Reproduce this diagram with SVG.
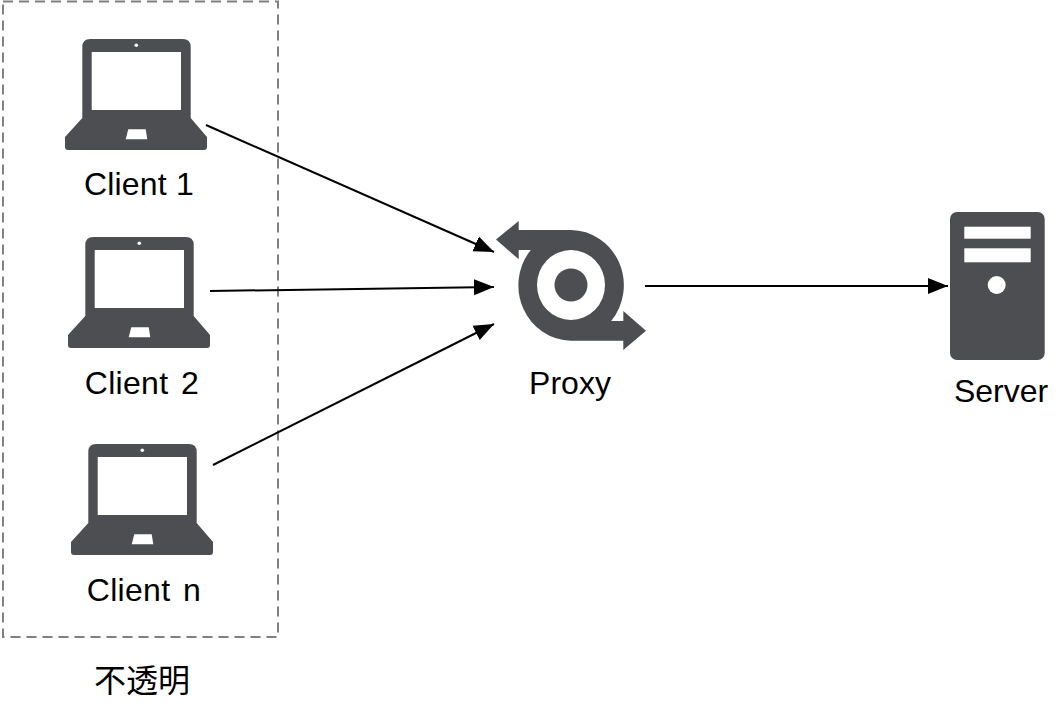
<svg xmlns="http://www.w3.org/2000/svg" width="1062" height="714" viewBox="0 0 1062 714">
<style>
.icon{fill:#4d4e52}
.hole{fill:#fff}
.lbl{font-family:"Liberation Sans",Arial,sans-serif;font-size:32px;fill:#000;text-anchor:middle}
.client{letter-spacing:.3px;word-spacing:3.5px}
.client-tight{letter-spacing:.2px}
.cjk{font-family:"Liberation Sans","Noto Sans CJK SC",sans-serif;font-size:32px;fill:#000;text-anchor:middle}
.conn{fill:none;stroke:#000;stroke-width:2}
</style>
<defs>
<marker id="arrow" markerUnits="userSpaceOnUse" markerWidth="22" markerHeight="18" refX="20" refY="9" orient="auto">
<path d="M0 1 L20 9 L0 17 Z" fill="#000"/>
</marker>
<symbol id="laptop" width="143" height="112" viewBox="0 0 143 112" overflow="visible">
<path class="icon" d="M17.3 8 Q17.3 0 25.3 0 L117.7 0 Q125.7 0 125.7 8 L125.7 79 L142 98 L142 108 Q142 111 139 111 L3 111 Q0 111 0 108 L0 98 L17.3 79 Z"/>
<rect class="hole" x="26.7" y="13" width="89.3" height="58"/>
<circle class="hole" cx="71.3" cy="6.3" r="1.8"/>
<path class="hole" d="M63.3 90.3 L80.7 90.3 L82.3 100.3 L60.7 100.3 Z"/>
</symbol>
</defs>
<rect id="group-box" x="3" y="1.5" width="275" height="635.5" fill="none" stroke="#808080" stroke-width="2" stroke-dasharray="10 6"/>
<g id="client-1"><use href="#laptop" x="65" y="39"/><text class="lbl client-tight" x="139" y="195">Client 1</text></g>
<g id="client-2"><use href="#laptop" x="68" y="237"/><text class="lbl client" x="142" y="394">Client 2</text></g>
<g id="client-n"><use href="#laptop" x="71" y="444"/><text class="lbl client" x="144" y="601">Client n</text></g>
<g id="proxy">
<path class="icon" fill-rule="evenodd" d="M496 239.5 L518.7 221 L518.7 230 L571 230 A53.5 55.3 0 0 1 611.2 321 L623.3 321 L623.3 311 L646 330.7 L623.3 350 L623.3 340.7 L571 340.7 A53.5 55.3 0 0 1 530.8 250 L518.7 250 L518.7 259.3 Z M571 250 A34 35 0 1 0 571 320 A34 35 0 1 0 571 250 Z"/>
<circle class="icon" cx="571" cy="285" r="16.5"/>
<text class="lbl" x="570" y="394">Proxy</text>
</g>
<g id="server">
<rect class="icon" x="950" y="212" width="94.7" height="148" rx="7"/>
<rect class="hole" x="964.3" y="226.7" width="66.4" height="12"/>
<rect class="hole" x="964.3" y="248.3" width="66.4" height="14"/>
<circle class="hole" cx="996.7" cy="285" r="9"/>
<text class="lbl" x="1001" y="402">Server</text>
</g>
<g id="connectors">
<line class="conn" x1="206" y1="125" x2="494" y2="252" marker-end="url(#arrow)"/>
<line class="conn" x1="210" y1="291" x2="494" y2="287" marker-end="url(#arrow)"/>
<line class="conn" x1="213" y1="465" x2="494" y2="324" marker-end="url(#arrow)"/>
<line class="conn" x1="645" y1="286" x2="948" y2="286" marker-end="url(#arrow)"/>
</g>
<text id="opaque-label" class="cjk" x="142" y="692">不透明</text>
</svg>
